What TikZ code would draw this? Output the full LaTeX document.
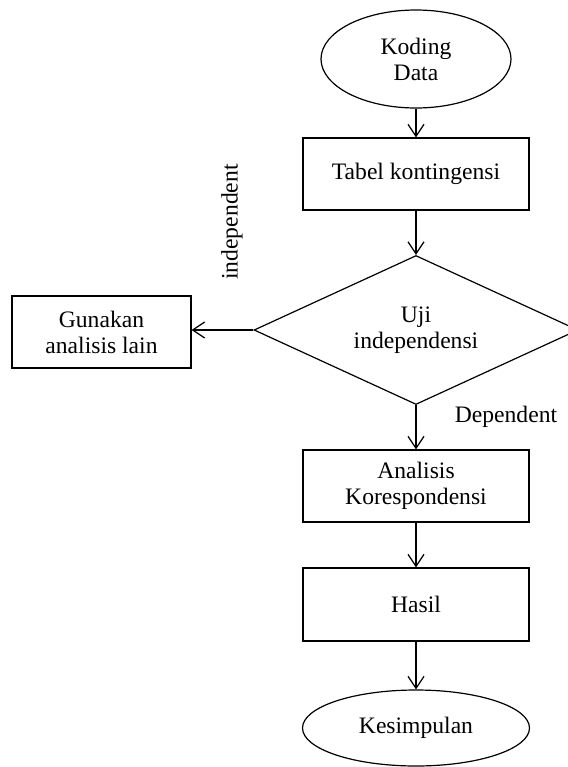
\documentclass[tikz,border=0pt]{standalone}
\usepackage{fontspec}
\setmainfont{Liberation Serif}
\usetikzlibrary{shapes.geometric,arrows.meta}
\begin{document}
\begin{tikzpicture}[x=0.5pt,y=-0.5pt,
  every node/.style={font=\fontsize{11.8}{13}\selectfont, align=center, inner sep=0pt},
  box/.style={draw, line width=0.6pt, minimum width=113pt, minimum height=36pt},
  oval/.style={draw, ellipse, line width=0.6pt},
  decision/.style={draw, diamond, shape aspect=2.17, line width=0.6pt, minimum width=162pt, minimum height=74.5pt},
  flow/.style={draw, line width=0.6pt, -{Straight Barb[length=6pt,width=8pt,line width=0.6pt]}}]
\useasboundingbox (0,0) rectangle (568,767);
\clip (0,0) rectangle (568,767);
\node[oval, minimum width=95pt, minimum height=49pt] (start) at (416,59) {Koding\\Data};
\node[box] (tabel) at (416,174) {Tabel kontingensi};
\node[decision] (uji) at (416,330) {Uji\\independensi};
\node[box, minimum width=89.5pt] (gunakan) at (101.5,332) {Gunakan\\analisis lain};
\node[box] (analisis) at (416,486) {Analisis\\Korespondensi};
\node[box, minimum height=36.5pt] (hasil) at (416,604.5) {Hasil};
\node[oval, minimum width=113.5pt, minimum height=38pt] (kesimpulan) at (416,728) {Kesimpulan};
\node[rotate=90] (indep) at (232,222) {independent};
\node (dep) at (506,417) {Dependent};
\draw[flow] (start) -- (tabel);
\draw[flow] (tabel) -- (uji);
\draw[flow] (uji.west) -- (gunakan.east |- uji.west);
\draw[flow] (uji) -- (analisis);
\draw[flow] (analisis) -- (hasil);
\draw[flow] (hasil) -- (kesimpulan);
\end{tikzpicture}
\end{document}
